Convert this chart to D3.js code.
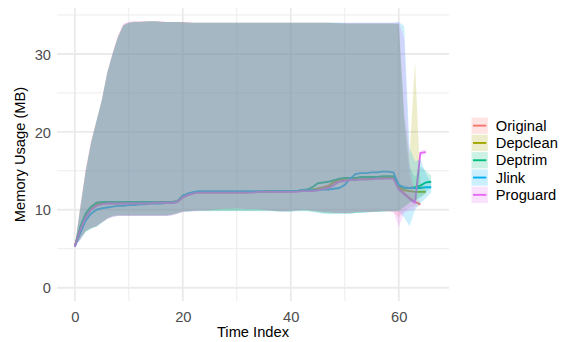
<!DOCTYPE html>
<html>
<head>
<meta charset="utf-8">
<script src="https://cdn.jsdelivr.net/npm/d3@7"></script>
<style>
  html, body { margin: 0; padding: 0; background: #ffffff; }
  svg { display: block; font-family: "Liberation Sans", Arial, sans-serif; }
</style>
</head>
<body>
<svg id="chart" width="563" height="342"></svg>
<script>
// Memory usage over time per build variant: mean line with a min–max band.
const seriesNames = ["Original", "Depclean", "Deptrim", "Jlink", "Proguard"];
const seriesColors = ["#F8766D", "#A3A500", "#00BF7D", "#00B0F6", "#E76BF3"];

const xTicks = [0, 20, 40, 60];
const yTicks = [0, 10, 20, 30];

const originalMean = [5.3,7.5,9.1,10.1,10.6,10.8,10.8,10.8,10.8,10.8,
  10.8,10.8,10.8,10.8,10.9,10.9,10.9,10.9,10.9,11.0,
  11.6,11.9,12.1,12.2,12.2,12.2,12.2,12.2,12.2,12.2,
  12.2,12.2,12.2,12.3,12.3,12.3,12.3,12.3,12.3,12.3,
  12.3,12.4,12.4,12.4,12.5,12.7,12.9,13.1,13.5,13.7,
  13.8,13.8,13.9,13.9,13.9,14.0,14.0,14.0,14.1,14.1,
  12.8,12.1,11.5,11.0,10.7];
const originalLow = [5.3,6.2,7.3,7.7,7.9,8.4,8.8,9.1,9.2,9.2,
  9.2,9.2,9.2,9.2,9.2,9.2,9.2,9.2,9.3,9.5,
  9.7,9.8,9.8,9.9,9.9,9.9,10.0,10.1,10.1,10.1,
  10.2,10.2,10.1,10.1,10.1,10.0,9.9,9.9,9.8,9.8,
  9.9,9.9,10.0,10.0,9.9,9.8,9.7,9.7,9.6,9.6,
  9.6,9.6,9.7,9.7,9.7,9.7,9.8,9.8,9.8,9.7,
  9.0,9.8,10.3,10.4,10.5];
const originalHigh = [5.3,10.3,15.0,18.7,21.3,24.0,27.5,30.1,32.3,33.8,
  34.1,34.2,34.2,34.2,34.2,34.2,34.2,34.1,34.1,34.1,
  34.1,34.1,34.0,34.0,34.0,34.0,34.0,34.0,34.0,34.0,
  34.0,34.0,34.0,34.0,34.0,34.0,34.0,34.0,34.0,34.0,
  34.0,34.0,34.0,34.0,34.0,34.0,34.0,34.0,33.9,33.9,
  33.9,33.9,33.9,33.9,33.9,33.9,33.9,33.9,33.9,33.9,
  33.8,21.0,14.5,12.0,11.0];

const depcleanMean = [5.3,7.6,9.3,10.2,10.7,10.9,11.0,11.0,11.0,11.0,
  11.0,11.0,11.0,11.0,11.0,11.0,11.0,11.0,11.0,11.1,
  11.8,12.0,12.2,12.3,12.3,12.3,12.3,12.3,12.3,12.3,
  12.3,12.3,12.3,12.3,12.3,12.4,12.4,12.4,12.4,12.4,
  12.4,12.4,12.5,12.5,12.6,12.7,12.8,12.9,13.7,13.9,
  14.0,14.0,14.1,14.1,14.1,14.1,14.2,14.2,14.2,14.2,
  13.0,12.5,12.4,12.3,12.3,12.3];
const depcleanLow = [5.3,6.3,7.2,7.6,7.9,8.4,8.9,9.2,9.3,9.3,
  9.3,9.3,9.3,9.3,9.3,9.3,9.3,9.3,9.4,9.6,
  9.8,9.8,9.9,9.9,9.9,9.9,9.9,9.9,9.9,9.9,
  9.9,9.9,9.9,9.9,9.9,9.9,9.9,9.8,9.8,9.8,
  9.8,9.9,9.9,9.9,9.8,9.7,9.6,9.6,9.6,9.6,
  9.6,9.6,9.6,9.7,9.7,9.7,9.7,9.8,9.8,9.8,
  9.8,10.4,10.9,11.3,11.7,12.0];
const depcleanHigh = [5.3,10.2,14.9,18.6,21.4,24.1,27.6,30.0,32.2,33.7,
  34.0,34.1,34.1,34.2,34.2,34.2,34.1,34.1,34.1,34.1,
  34.1,34.0,34.0,34.0,34.0,34.0,34.0,34.0,34.0,34.0,
  34.0,34.0,34.0,34.0,34.0,34.0,34.0,34.0,34.0,34.0,
  34.0,34.0,34.0,34.0,34.0,34.0,34.0,34.0,34.0,33.9,
  33.9,33.9,33.9,33.9,33.9,33.9,33.9,33.9,33.9,33.9,
  33.8,22.5,17.0,29.0,13.5,12.6];

const deptrimMean = [5.3,7.8,9.5,10.4,10.9,11.0,11.0,11.0,11.0,11.0,
  11.0,11.0,11.0,11.0,11.0,11.0,11.0,11.0,11.0,11.1,
  11.8,12.0,12.2,12.3,12.3,12.3,12.3,12.3,12.3,12.3,
  12.3,12.3,12.3,12.3,12.3,12.3,12.3,12.4,12.4,12.4,
  12.4,12.4,12.5,12.6,12.9,13.4,13.5,13.6,13.8,14.0,
  14.1,14.1,14.1,14.2,14.2,14.2,14.2,14.3,14.3,14.3,
  13.1,12.8,12.8,12.9,13.1,13.5,13.6];
const deptrimLow = [5.3,6.3,7.2,7.6,7.9,8.4,8.9,9.2,9.3,9.3,
  9.3,9.3,9.3,9.3,9.3,9.3,9.3,9.3,9.4,9.6,
  9.8,9.8,9.9,9.9,9.9,9.9,9.9,9.9,9.9,9.9,
  9.9,9.9,9.9,9.9,9.9,9.9,9.9,9.8,9.8,9.8,
  9.8,9.9,9.9,9.9,9.8,9.7,9.6,9.5,9.5,9.5,
  9.5,9.5,9.6,9.6,9.7,9.7,9.7,9.8,9.8,9.8,
  9.9,10.4,10.9,11.2,11.5,12.2,12.8];
const deptrimHigh = [5.3,10.2,14.9,18.6,21.4,24.1,27.6,30.0,32.2,33.7,
  34.0,34.1,34.1,34.2,34.2,34.2,34.1,34.1,34.1,34.1,
  34.1,34.0,34.0,34.0,34.0,34.0,34.0,34.0,34.0,34.0,
  34.0,34.0,34.0,34.0,34.0,34.0,34.0,34.0,34.0,34.0,
  34.0,34.0,34.0,34.0,34.0,34.0,34.0,34.0,34.0,34.0,
  33.9,33.9,33.9,33.9,33.9,33.9,33.9,33.9,33.9,33.9,
  33.9,22.0,15.5,14.2,15.6,15.0,14.4];

const jlinkMean = [5.3,7.0,8.6,9.5,10.0,10.2,10.3,10.4,10.5,10.5,
  10.6,10.6,10.7,10.7,10.8,10.8,10.8,10.9,10.9,11.0,
  11.8,12.1,12.3,12.4,12.4,12.4,12.4,12.4,12.4,12.4,
  12.4,12.4,12.4,12.4,12.4,12.4,12.4,12.4,12.4,12.4,
  12.4,12.4,12.5,12.5,12.5,12.5,12.6,12.6,12.7,12.8,
  13.2,14.0,14.6,14.7,14.7,14.8,14.8,14.9,14.9,14.8,
  13.2,12.9,12.8,12.8,12.8,12.9,12.9];
const jlinkLow = [5.3,6.1,7.1,7.6,7.8,8.3,8.8,9.1,9.2,9.2,
  9.2,9.2,9.2,9.2,9.2,9.2,9.2,9.2,9.3,9.5,
  9.7,9.7,9.8,9.8,9.8,9.8,9.8,9.8,9.8,9.8,
  9.8,9.8,9.8,9.8,9.8,9.8,9.8,9.8,9.7,9.7,
  9.7,9.8,9.8,9.8,9.7,9.6,9.5,9.5,9.5,9.5,
  9.5,9.5,9.6,9.6,9.6,9.7,9.7,9.7,9.8,9.8,
  9.8,9.0,7.9,10.0,10.8,11.5,12.2];
const jlinkHigh = [5.3,10.1,14.8,18.5,21.3,24.0,27.5,30.0,32.1,33.7,
  34.0,34.1,34.1,34.1,34.2,34.2,34.1,34.1,34.1,34.1,
  34.0,34.0,34.0,34.0,34.0,34.0,34.0,34.0,34.0,34.0,
  34.0,34.0,34.0,34.0,34.0,34.0,34.0,34.0,34.0,34.0,
  34.0,34.0,34.0,34.0,34.0,34.0,34.0,34.0,34.0,34.0,
  34.0,34.0,34.0,34.0,34.0,34.0,34.0,34.0,34.0,34.0,
  34.1,33.6,18.0,16.2,16.5,14.7,13.6];

const proguardMean = [5.3,7.4,9.0,10.0,10.5,10.7,10.8,10.8,10.8,10.8,
  10.8,10.8,10.8,10.8,10.8,10.9,10.9,10.9,10.9,11.0,
  11.6,11.9,12.1,12.2,12.2,12.2,12.2,12.2,12.2,12.2,
  12.2,12.2,12.2,12.2,12.3,12.3,12.3,12.3,12.3,12.3,
  12.3,12.3,12.4,12.4,12.4,12.5,12.7,12.8,13.2,13.6,
  13.7,13.8,13.8,13.9,13.9,13.9,14.0,14.0,14.0,14.0,
  12.6,12.0,11.4,10.9,17.3,17.4];
const proguardLow = [5.3,6.2,7.3,7.7,7.9,8.4,8.8,9.1,9.2,9.2,
  9.2,9.2,9.2,9.2,9.2,9.2,9.2,9.2,9.3,9.5,
  9.7,9.8,9.8,9.9,9.9,10.0,10.1,10.1,10.2,10.2,
  10.2,10.1,10.1,10.1,10.1,10.0,9.9,9.9,9.8,9.8,
  9.9,9.9,10.0,10.0,9.9,9.8,9.7,9.7,9.6,9.6,
  9.6,9.6,9.7,9.7,9.7,9.7,9.8,9.8,9.8,9.7,
  7.8,9.6,9.9,10.1,17.0,17.1];
const proguardHigh = [5.3,10.4,15.1,18.8,21.4,24.2,27.7,30.2,32.4,33.9,
  34.1,34.2,34.2,34.2,34.2,34.2,34.2,34.1,34.1,34.1,
  34.1,34.1,34.0,34.0,34.0,34.0,34.0,34.0,34.0,34.0,
  34.0,34.0,34.0,34.0,34.0,34.0,34.0,34.0,34.0,34.0,
  34.0,34.0,34.0,34.0,34.0,34.0,34.0,34.0,34.0,34.0,
  34.0,34.0,34.0,34.0,34.0,34.0,34.0,34.0,34.0,34.0,
  34.1,32.0,16.0,12.0,17.6,17.7];

const meanSets = [originalMean, depcleanMean, deptrimMean, jlinkMean, proguardMean];
const lowSets = [originalLow, depcleanLow, deptrimLow, jlinkLow, proguardLow];
const highSets = [originalHigh, depcleanHigh, deptrimHigh, jlinkHigh, proguardHigh];

const series = seriesNames.map((name, i) => ({
  name,
  color: seriesColors[i],
  points: meanSets[i].map((m, t) => ({ t, mean: m, low: lowSets[i][t], high: highSets[i][t] }))
}));

const svg = d3.select("#chart");
const panel = { left: 57, right: 449, top: 8, bottom: 301 };

const x = d3.scaleLinear().domain([-3.3, 69.3]).range([panel.left, panel.right]);
const y = d3.scaleLinear().domain([-1.71, 35.9]).range([panel.bottom, panel.top]);

// grid (minimal theme: no panel fill, no axis lines)
const grid = svg.append("g");
[10, 30, 50].forEach(v => grid.append("line")
  .attr("x1", x(v)).attr("x2", x(v)).attr("y1", panel.top).attr("y2", panel.bottom)
  .attr("stroke", "#ebebeb").attr("stroke-width", 0.95));
[5, 15, 25, 35].forEach(v => grid.append("line")
  .attr("x1", panel.left).attr("x2", panel.right).attr("y1", y(v)).attr("y2", y(v))
  .attr("stroke", "#ebebeb").attr("stroke-width", 0.95));
xTicks.forEach(v => grid.append("line")
  .attr("x1", x(v)).attr("x2", x(v)).attr("y1", panel.top).attr("y2", panel.bottom)
  .attr("stroke", "#ebebeb").attr("stroke-width", 1.9));
yTicks.forEach(v => grid.append("line")
  .attr("x1", panel.left).attr("x2", panel.right).attr("y1", y(v)).attr("y2", y(v))
  .attr("stroke", "#ebebeb").attr("stroke-width", 1.9));

// mean lines
const line = d3.line().x(d => x(d.t)).y(d => y(d.mean));
svg.append("g").selectAll("path").data(series).join("path")
  .attr("d", d => line(d.points))
  .attr("fill", "none")
  .attr("stroke", d => d.color)
  .attr("stroke-width", 1.9)
  .attr("stroke-linejoin", "round");

// translucent bands
const area = d3.area().x(d => x(d.t)).y0(d => y(d.low)).y1(d => y(d.high));
svg.append("g").selectAll("path").data(series).join("path")
  .attr("d", d => area(d.points))
  .attr("fill", d => d.color)
  .attr("fill-opacity", 0.2);

// axes (labels only)
const xAxis = d3.axisBottom(x).tickValues(xTicks).tickSize(0).tickPadding(0);
const gx = svg.append("g").attr("transform", `translate(0,${panel.bottom})`).call(xAxis);
gx.select(".domain").remove();
gx.selectAll("text").attr("dy", null).attr("y", 20.5)
  .attr("fill", "#4d4d4d").attr("font-size", "14.7px").attr("font-family", "Liberation Sans, Arial, sans-serif");

const yAxis = d3.axisLeft(y).tickValues(yTicks).tickSize(0).tickPadding(0);
const gy = svg.append("g").attr("transform", `translate(${panel.left},0)`).call(yAxis);
gy.select(".domain").remove();
gy.selectAll("text").attr("x", -6).attr("dy", "0.35em")
  .attr("fill", "#4d4d4d").attr("font-size", "14.7px").attr("font-family", "Liberation Sans, Arial, sans-serif");

// axis titles
svg.append("text")
  .attr("x", (panel.left + panel.right) / 2).attr("y", 337)
  .attr("text-anchor", "middle").attr("font-size", "14.7px").attr("fill", "#000")
  .text("Time Index");
svg.append("text")
  .attr("transform", `translate(25,${(panel.top + panel.bottom) / 2}) rotate(-90)`)
  .attr("text-anchor", "middle").attr("font-size", "14.7px").attr("fill", "#000")
  .text("Memory Usage (MB)");

// legend
const legend = svg.append("g").attr("transform", "translate(471,117)");
const keySize = 17.3;
series.forEach((s, i) => {
  const g = legend.append("g").attr("transform", `translate(0,${i * keySize})`);
  g.append("rect").attr("x", 0.5).attr("y", 0.5).attr("width", keySize - 1).attr("height", keySize - 1)
    .attr("fill", "#ffffff");
  g.append("line").attr("x1", 2).attr("x2", keySize - 2)
    .attr("y1", keySize / 2).attr("y2", keySize / 2)
    .attr("stroke", s.color).attr("stroke-width", 1.9);
  g.append("rect").attr("x", 0.5).attr("y", 0.5).attr("width", keySize - 1).attr("height", keySize - 1)
    .attr("fill", s.color).attr("fill-opacity", 0.2);
  g.append("text").attr("x", keySize + 7.5).attr("y", keySize / 2).attr("dy", "0.35em")
    .attr("font-size", "14.7px").attr("fill", "#000").text(s.name);
});
</script>
</body>
</html>
